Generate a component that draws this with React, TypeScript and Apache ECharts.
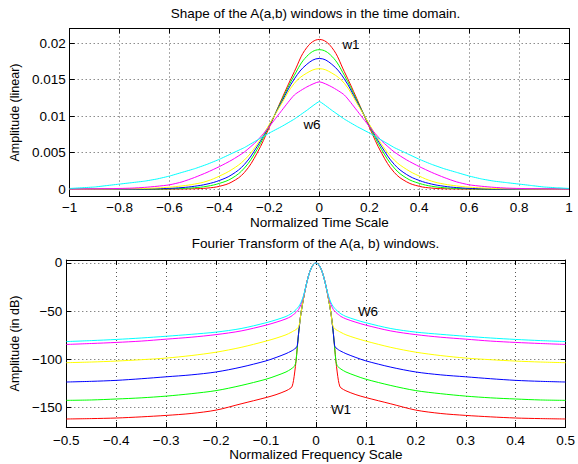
import React, { useEffect, useRef } from "react";
import * as echarts from "echarts";

const FONT = "'Liberation Sans', Arial, Helvetica, sans-serif";
const FS = 13.5;
const COLORS = ["#ff0000", "#00ff00", "#0000ff", "#ffff00", "#ff00ff", "#00ffff"];
const NAMES = ["w1", "w2", "w3", "w4", "w5", "w6"];

// ---- Time domain (top) ----
const timeX = [
  -1, -0.95, -0.9, -0.85, -0.8, -0.75, -0.7, -0.65, -0.6, -0.55, -0.5, -0.45, -0.4, -0.35, -0.3, -0.25, -0.2, -0.15, -0.1, -0.05,
  0,
  0.05, 0.1, 0.15, 0.2, 0.25, 0.3, 0.35, 0.4, 0.45, 0.5, 0.55, 0.6, 0.65, 0.7, 0.75, 0.8, 0.85, 0.9, 0.95, 1,
];
const timeW1 = [
  0, 0, 0, 0, 0, 0, 0, 0, 0.00001, 0.00003, 0.00006, 0.00015, 0.0004, 0.001, 0.0023, 0.0049, 0.0085, 0.0124, 0.0161, 0.0194,
  0.0205,
  0.0194, 0.0161, 0.0124, 0.0085, 0.0049, 0.0023, 0.001, 0.0004, 0.00015, 0.00006, 0.00003, 0.00001, 0, 0, 0, 0, 0, 0, 0, 0,
];
const timeW2 = [
  0, 0, 0, 0, 0, 0, 0.00001, 0.00002, 0.00005, 0.0001, 0.0002, 0.0004, 0.0008, 0.0015, 0.0029, 0.0054, 0.0087, 0.0122, 0.0156, 0.0182,
  0.0191,
  0.0182, 0.0156, 0.0122, 0.0087, 0.0054, 0.0029, 0.0015, 0.0008, 0.0004, 0.0002, 0.0001, 0.00005, 0.00002, 0.00001, 0, 0, 0, 0, 0, 0,
];
const timeW3 = [
  0, 0, 0, 0, 0, 0.00001, 0.00003, 0.00006, 0.00012, 0.00022, 0.0004, 0.0007, 0.0012, 0.002, 0.0034, 0.0058, 0.0088, 0.012, 0.0151, 0.0171,
  0.0179,
  0.0171, 0.0151, 0.012, 0.0088, 0.0058, 0.0034, 0.002, 0.0012, 0.0007, 0.0004, 0.00022, 0.00012, 0.00006, 0.00003, 0.00001, 0, 0, 0, 0, 0,
];
const timeW4 = [
  0, 0, 0.00001, 0.00002, 0.00004, 0.00006, 0.0001, 0.00017, 0.00028, 0.00045, 0.0007, 0.0011, 0.0018, 0.0027, 0.004, 0.0061, 0.0089, 0.0118, 0.0145, 0.0159,
  0.0165,
  0.0159, 0.0145, 0.0118, 0.0089, 0.0061, 0.004, 0.0027, 0.0018, 0.0011, 0.0007, 0.00045, 0.00028, 0.00017, 0.0001, 0.00006, 0.00004, 0.00002, 0.00001, 0, 0,
];
const timeW5 = [
  0.00002, 0.00003, 0.00005, 0.00007, 0.0001, 0.00015, 0.00025, 0.0004, 0.0006, 0.001, 0.0016, 0.0023, 0.0031, 0.004, 0.0051, 0.0066, 0.0086, 0.0108, 0.0129, 0.014,
  0.0147,
  0.014, 0.0129, 0.0108, 0.0086, 0.0066, 0.0051, 0.004, 0.0031, 0.0023, 0.0016, 0.001, 0.0006, 0.0004, 0.00025, 0.00015, 0.0001, 0.00007, 0.00005, 0.00003, 0.00002,
];
const timeW6 = [
  0.0001, 0.0002, 0.0003, 0.0005, 0.0007, 0.0009, 0.0011, 0.0014, 0.0018, 0.0023, 0.0028, 0.0034, 0.0041, 0.0049, 0.0057, 0.0067, 0.0077, 0.0086, 0.0096, 0.0108,
  0.012,
  0.0108, 0.0096, 0.0086, 0.0077, 0.0067, 0.0057, 0.0049, 0.0041, 0.0034, 0.0028, 0.0023, 0.0018, 0.0014, 0.0011, 0.0009, 0.0007, 0.0005, 0.0003, 0.0002, 0.0001,
];

// ---- Frequency domain (bottom), dB ----
const freqX = [
  -0.5, -0.45, -0.4, -0.35, -0.3, -0.25, -0.2, -0.15, -0.1, -0.08, -0.06, -0.05, -0.0475, -0.045, -0.0425, -0.04, -0.0375, -0.035, -0.0325, -0.03, -0.025, -0.02, -0.015, -0.01, -0.005,
  0,
  0.005, 0.01, 0.015, 0.02, 0.025, 0.03, 0.0325, 0.035, 0.0375, 0.04, 0.0425, 0.045, 0.0475, 0.05, 0.06, 0.08, 0.1, 0.15, 0.2, 0.25, 0.3, 0.35, 0.4, 0.45, 0.5,
];
const freqW1 = [
  -161.7, -161.3, -160.7, -159.5, -158, -156, -152.5, -146, -139.5, -136.5, -132.5, -129.5, -127.5, -122, -113, -102, -88, -74, -62, -52, -37, -24, -13.5, -6, -1.5,
  0,
  -1.5, -6, -13.5, -24, -37, -52, -62, -74, -88, -102, -113, -122, -127.5, -129.5, -132.5, -136.5, -139.5, -146, -152.5, -156, -158, -159.5, -160.7, -161.3, -161.7,
];
const freqW2 = [
  -142.4, -142, -141, -139.8, -138, -135.5, -132.3, -127, -120.5, -117, -113, -110, -109, -108, -106.5, -102, -88, -74, -62, -52, -37, -24, -13.5, -6, -1.5,
  0,
  -1.5, -6, -13.5, -24, -37, -52, -62, -74, -88, -102, -106.5, -108, -109, -110, -113, -117, -120.5, -127, -132.3, -135.5, -138, -139.8, -141, -142, -142.4,
];
const freqW3 = [
  -123.4, -122.7, -121.7, -120, -118, -116, -113, -108, -101.5, -98, -94, -91.5, -90.8, -90, -89, -88, -86, -74, -62, -52, -37, -24, -13.5, -6, -1.5,
  0,
  -1.5, -6, -13.5, -24, -37, -52, -62, -74, -86, -88, -89, -90, -90.8, -91.5, -94, -98, -101.5, -108, -113, -116, -118, -120, -121.7, -122.7, -123.4,
];
const freqW4 = [
  -103.4, -102.7, -101.7, -100.3, -98.6, -96, -92.5, -87.5, -81, -78, -74.5, -72, -71.3, -70.5, -70, -69, -68, -66.5, -62, -52, -37, -24, -13.5, -6, -1.5,
  0,
  -1.5, -6, -13.5, -24, -37, -52, -62, -66.5, -68, -69, -70, -70.5, -71.3, -72, -74.5, -78, -81, -87.5, -92.5, -96, -98.6, -100.3, -101.7, -102.7, -103.4,
];
const freqW5 = [
  -84.5, -83.5, -82.4, -81, -79, -77, -74.3, -70.5, -64.5, -61.5, -58, -55.5, -54.5, -53.5, -52.5, -51.3, -50, -48.5, -46, -43, -35, -24, -13.5, -6, -1.5,
  0,
  -1.5, -6, -13.5, -24, -35, -43, -46, -48.5, -50, -51.3, -52.5, -53.5, -54.5, -55.5, -58, -61.5, -64.5, -70.5, -74.3, -77, -79, -81, -82.4, -83.5, -84.5,
];
const freqW6 = [
  -81.5, -80.5, -79.3, -77.8, -76, -74, -71.7, -68, -62, -59, -55.5, -52.8, -51.8, -50.8, -49.7, -48.5, -47, -45.5, -43.5, -41, -34, -24, -13.5, -6, -1.5,
  0,
  -1.5, -6, -13.5, -24, -34, -41, -43.5, -45.5, -47, -48.5, -49.7, -50.8, -51.8, -52.8, -55.5, -59, -62, -68, -71.7, -74, -76, -77.8, -79.3, -80.5, -81.5,
];

const timeTicks = [0, 0.005, 0.01, 0.015, 0.02];
const dbTicks = [-150, -100, -50, 0];

const timeSeries = [timeW1, timeW2, timeW3, timeW4, timeW5, timeW6];
const freqSeries = [freqW1, freqW2, freqW3, freqW4, freqW5, freqW6];
const timeSmooth = [0.4, 0.4, 0.4, 0.4, 0.2, 0.1];

const fmt = (v: number) => {
  const s = String(Math.round(v * 10000) / 10000);
  return s.replace("-", "\u2212");
};

const gridLine = { show: true, lineStyle: { color: "#555", width: 1, type: [1, 3] as any } };
const axisLineBlack = { show: true, onZero: false, lineStyle: { color: "#000", width: 1 } };
const tickIn = { show: true, inside: true, length: 5, lineStyle: { color: "#000", width: 1 } };
const labelStyle = { color: "#000", fontSize: FS, fontFamily: FONT };
const nameStyle = { color: "#000", fontSize: FS, fontFamily: FONT };
const yNameStyle = { color: "#000", fontSize: 12.5, fontFamily: FONT };

function buildOption() {
  const series: any[] = [];
  timeSeries.forEach((arr, k) => {
    series.push({
      type: "line",
      name: NAMES[k],
      xAxisIndex: 0,
      yAxisIndex: 0,
      data: timeX.map((x, i) => [x, arr[i]]),
      showSymbol: false,
      symbol: "none",
      smooth: timeSmooth[k],
      lineStyle: { color: COLORS[k], width: 1 },
      itemStyle: { color: COLORS[k] },
      silent: true,
    });
  });
  freqSeries.forEach((arr, k) => {
    series.push({
      type: "line",
      name: NAMES[k].toUpperCase(),
      xAxisIndex: 2,
      yAxisIndex: 2,
      data: freqX.map((x, i) => [x, arr[i]]),
      showSymbol: false,
      symbol: "none",
      smooth: 0.3,
      lineStyle: { color: COLORS[k], width: 1 },
      itemStyle: { color: COLORS[k] },
      silent: true,
    });
  });

  const text = (t: string, x: number, y: number) => ({
    type: "text",
    x,
    y,
    silent: true,
    style: { text: t, fill: "#000", fontSize: FS, fontFamily: FONT, align: "center", verticalAlign: "middle" },
  });

  return {
    animation: false,
    backgroundColor: "#fff",
    grid: [
      { left: 62, top: 28.5, width: 507, height: 168, containLabel: false },
      { left: 62, top: 260, width: 507, height: 167, containLabel: false },
    ],
    xAxis: [
      {
        type: "value", gridIndex: 0, position: "bottom", min: -1, max: 1, interval: 0.2,
        axisLine: axisLineBlack, axisTick: tickIn, splitLine: gridLine,
        axisLabel: { ...labelStyle, margin: 4, formatter: fmt },
        name: "Normalized Time Scale", nameLocation: "middle", nameGap: 18, nameTextStyle: nameStyle,
      },
      {
        type: "value", gridIndex: 0, position: "top", min: -1, max: 1, interval: 0.2,
        axisLine: axisLineBlack, axisTick: tickIn, splitLine: { show: false }, axisLabel: { show: false },
      },
      {
        type: "value", gridIndex: 1, position: "bottom", min: -0.5, max: 0.5, interval: 0.1,
        axisLine: axisLineBlack, axisTick: tickIn, splitLine: gridLine,
        axisLabel: { ...labelStyle, margin: 6, formatter: fmt },
        name: "Normalized Frequency Scale", nameLocation: "middle", nameGap: 19, nameTextStyle: nameStyle,
      },
      {
        type: "value", gridIndex: 1, position: "top", min: -0.5, max: 0.5, interval: 0.1,
        axisLine: axisLineBlack, axisTick: tickIn, splitLine: { show: false }, axisLabel: { show: false },
      },
    ],
    yAxis: [
      {
        type: "value", gridIndex: 0, position: "left", min: -0.001, max: 0.022,
        axisLine: axisLineBlack, axisTick: { ...tickIn, customValues: timeTicks }, splitLine: gridLine,
        axisLabel: { ...labelStyle, margin: 4, formatter: fmt, customValues: timeTicks },
        name: "Amplitude (linear)", nameLocation: "middle", nameGap: 40, nameTextStyle: yNameStyle,
      },
      {
        type: "value", gridIndex: 0, position: "right", min: -0.001, max: 0.022,
        axisLine: axisLineBlack, axisTick: { ...tickIn, customValues: timeTicks }, splitLine: { show: false },
        axisLabel: { show: false, customValues: timeTicks },
      },
      {
        type: "value", gridIndex: 1, position: "left", min: -170, max: 3,
        axisLine: axisLineBlack, axisTick: { ...tickIn, customValues: dbTicks }, splitLine: gridLine,
        axisLabel: { ...labelStyle, margin: 4, formatter: fmt, customValues: dbTicks },
        name: "Amplitude (in dB)", nameLocation: "middle", nameGap: 40, nameTextStyle: yNameStyle,
      },
      {
        type: "value", gridIndex: 1, position: "right", min: -170, max: 3,
        axisLine: axisLineBlack, axisTick: { ...tickIn, customValues: dbTicks }, splitLine: { show: false },
        axisLabel: { show: false, customValues: dbTicks },
      },
    ],
    graphic: [
      text("Shape of the A(a,b) windows in the time domain.", 315.5, 13),
      text("Fourier Transform of the A(a, b) windows.", 315.5, 243),
      text("w1", 351, 44),
      text("w6", 312, 124),
      text("W6", 368, 311),
      text("W1", 341, 409),
    ],
    series,
  };
}

export default function App() {
  const ref = useRef<HTMLDivElement>(null);
  useEffect(() => {
    if (!ref.current) return;
    const chart = echarts.init(ref.current, null, { renderer: "svg" });
    chart.setOption(buildOption() as any);
    return () => chart.dispose();
  }, []);
  return (
    <div
      ref={ref}
      style={{ position: "fixed", left: 0, top: 0, width: 578, height: 464, background: "#fff" }}
    />
  );
}
